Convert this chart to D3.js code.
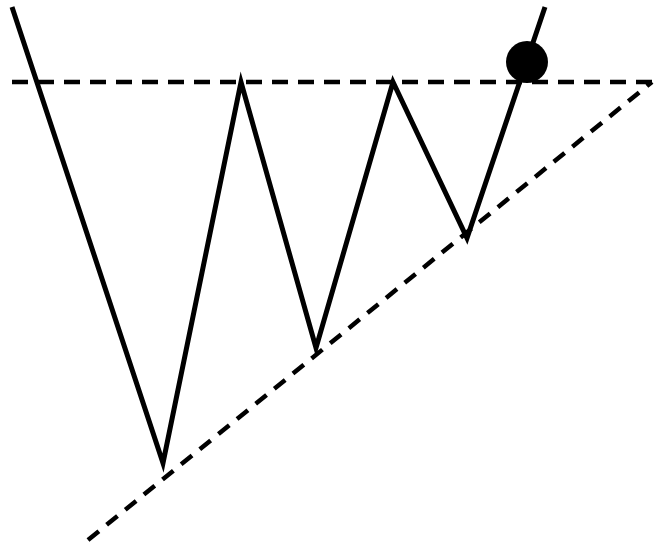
<!DOCTYPE html>
<html><head><meta charset="utf-8">
<script src="https://cdn.jsdelivr.net/npm/d3@7"></script>
<style>html,body{margin:0;padding:0;background:#fff;}svg{display:block;}</style>
</head><body>
<script>
// Ascending triangle: price path (time, price)
const pathTime  = [12, 163, 241, 316, 393, 467, 545];
const pathPrice = [541, 85, 466, 200, 466, 310, 541];
// Resistance (horizontal) line
const resistTime  = [12, 652];
const resistPrice = [466, 466];
// Rising support line
const supportTime  = [88, 652];
const supportPrice = [8, 466];
// Breakout point
const breakoutTime = [527];
const breakoutPrice = [486];

const W = 656, H = 548;
const x = d3.scaleLinear().domain([0, 656]).range([0, W]);
const y = d3.scaleLinear().domain([0, 548]).range([H, 0]);

const svg = d3.select("body").append("svg").attr("width", W).attr("height", H);
const line = d3.line().x(d => x(d[0])).y(d => y(d[1]));

svg.append("path")
  .datum(resistTime.map((t, i) => [t, resistPrice[i]]))
  .attr("d", line).attr("fill", "none").attr("stroke", "#000")
  .attr("stroke-width", 4.5).attr("stroke-dasharray", "16,10");

svg.append("path")
  .datum(supportTime.map((t, i) => [t, supportPrice[i]]))
  .attr("d", line).attr("fill", "none").attr("stroke", "#000")
  .attr("stroke-width", 4.5).attr("stroke-dasharray", "14,10");

svg.append("path")
  .datum(pathTime.map((t, i) => [t, pathPrice[i]]))
  .attr("d", line).attr("fill", "none").attr("stroke", "#000")
  .attr("stroke-width", 5).attr("stroke-linejoin", "miter").attr("stroke-miterlimit", 10);

svg.selectAll("circle.b").data(breakoutTime.map((t, i) => [t, breakoutPrice[i]]))
  .enter().append("circle").attr("class", "b")
  .attr("cx", d => x(d[0])).attr("cy", d => y(d[1])).attr("r", 21).attr("fill", "#000");
</script>
</body></html>
